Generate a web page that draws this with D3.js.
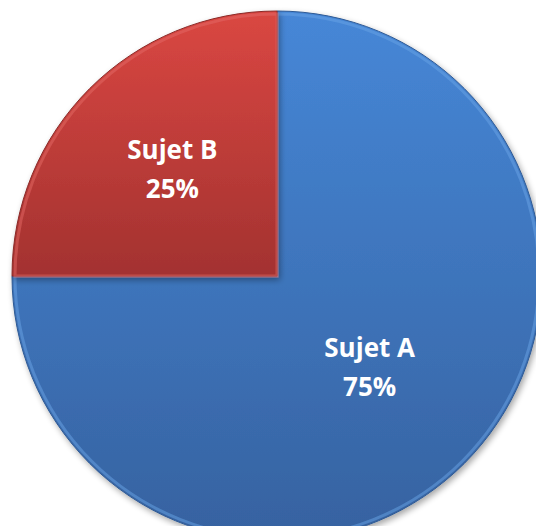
<!DOCTYPE html>
<html><head><meta charset="utf-8">
<script src="https://cdn.jsdelivr.net/npm/d3@7"></script>
<style>html,body{margin:0;padding:0;background:#fff;overflow:hidden}</style>
</head><body>
<svg id="c" width="536" height="526"></svg>
<script>
const categories = ["Sujet A", "Sujet B"];
const values = [75, 25];
const labels = ["75%", "25%"];

const svg = d3.select("#c");
const cx = 277, cy = 276, R = 265;
const defs = svg.append("defs");
const cols = {"Sujet A": ["#4687d7", "#3662a0"], "Sujet B": ["#da4742", "#a33230"]};
const gy = [[-R, R], [-R, 0]];
categories.forEach((c, i) => {
  const g = defs.append("linearGradient").attr("id", "g" + i)
    .attr("gradientUnits", "userSpaceOnUse").attr("x1", 0).attr("y1", gy[i][0]).attr("x2", 0).attr("y2", gy[i][1]);
  g.append("stop").attr("offset", "0").attr("stop-color", cols[c][0]);
  g.append("stop").attr("offset", "1").attr("stop-color", cols[c][1]);
});
const f = defs.append("filter").attr("id", "sh").attr("x", "-10%").attr("y", "-10%").attr("width", "120%").attr("height", "120%");
f.append("feGaussianBlur").attr("in", "SourceAlpha").attr("stdDeviation", 3).attr("result", "b");
f.append("feOffset").attr("in", "b").attr("dx", 2).attr("dy", 3).attr("result", "o");
f.append("feComponentTransfer").attr("in", "o").attr("result", "o2")
  .append("feFuncA").attr("type", "linear").attr("slope", 0.35);
const m = f.append("feMerge");
m.append("feMergeNode").attr("in", "o2");
m.append("feMergeNode").attr("in", "SourceGraphic");

const pie = d3.pie().sort(null).value(d => d)(values);
const arc = d3.arc().innerRadius(0).outerRadius(R);
const g = svg.append("g").attr("transform", `translate(${cx},${cy})`);
const slices = g.selectAll("g.s").data(pie).join("g").attr("class", "s").attr("filter", "url(#sh)");
slices.append("path").attr("d", arc)
  .attr("fill", (d, i) => `url(#g${i})`)
  .attr("stroke", (d, i) => i === 0 ? "#2f5a94" : "#8a2a28").attr("stroke-width", 1);
const arcIn = d3.arc().innerRadius(0).outerRadius(R - 3);
slices.append("path").attr("d", arcIn)
  .attr("fill", "none")
  .attr("stroke", (d, i) => i === 0 ? "#6aa3e6" : "#e46a66")
  .attr("stroke-opacity", 0.5).attr("stroke-width", 3);

const lr = [131, 148];
g.selectAll("text.l").data(pie).join("text").attr("class", "l")
  .attr("transform", (d, i) => {
    const c = d3.arc().innerRadius(lr[i]).outerRadius(lr[i]).centroid(d);
    return `translate(${c[0]},${c[1]})`;
  })
  .attr("text-anchor", "middle")
  .attr("font-family", "'Open Sans', sans-serif").attr("font-weight", "bold")
  .attr("font-size", 26).attr("fill", "#fff")
  .each(function (d, i) {
    const t = d3.select(this);
    t.append("tspan").attr("x", 0).attr("y", -12).text(categories[i]);
    t.append("tspan").attr("x", 0).attr("y", 27).text(labels[i]);
  });
</script>
</body></html>
